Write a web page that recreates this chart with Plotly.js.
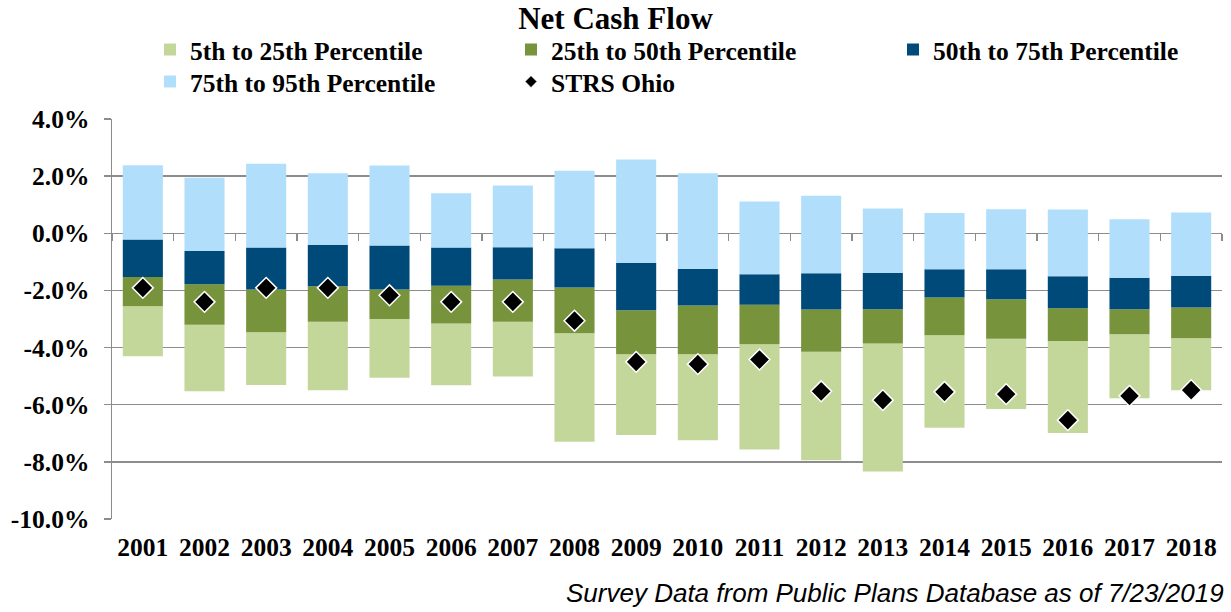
<!DOCTYPE html>
<html>
<head>
<meta charset="utf-8">
<script src="https://cdn.plot.ly/plotly-3.0.1.min.js"></script>
<style>
  html, body { margin: 0; padding: 0; background: #ffffff; }
  #chart { width: 1231px; height: 612px; }
</style>
</head>
<body>
<div id="chart"></div>
<script>
// ---- Data (percent) ----
var years = ['2001','2002','2003','2004','2005','2006','2007','2008','2009','2010','2011','2012','2013','2014','2015','2016','2017','2018'];
var p95 = [2.38, 1.94, 2.43, 2.10, 2.37, 1.40, 1.67, 2.19, 2.58, 2.10, 1.11, 1.31, 0.87, 0.71, 0.84, 0.83, 0.49, 0.73];
var p75 = [-0.22, -0.62, -0.50, -0.40, -0.43, -0.50, -0.49, -0.52, -1.04, -1.25, -1.43, -1.40, -1.39, -1.26, -1.26, -1.50, -1.56, -1.49];
var p50 = [-1.53, -1.78, -1.97, -1.85, -1.97, -1.84, -1.62, -1.90, -2.69, -2.53, -2.50, -2.67, -2.66, -2.25, -2.31, -2.62, -2.66, -2.60];
var p25 = [-2.55, -3.20, -3.46, -3.10, -3.00, -3.16, -3.10, -3.50, -4.23, -4.23, -3.88, -4.15, -3.86, -3.57, -3.69, -3.77, -3.53, -3.67];
var p5  = [-4.30, -5.53, -5.31, -5.49, -5.06, -5.32, -5.01, -7.30, -7.06, -7.24, -7.57, -7.94, -8.34, -6.81, -6.15, -6.99, -5.77, -5.49];
var strsOhio = [-1.91, -2.40, -1.91, -1.91, -2.17, -2.40, -2.40, -3.06, -4.50, -4.58, -4.42, -5.53, -5.84, -5.55, -5.63, -6.54, -5.69, -5.49];

var yTickVals = [-10, -8, -6, -4, -2, 0, 2, 4];
var yTickLabels = ['-10.0%', '-8.0%', '-6.0%', '-4.0%', '-2.0%', '0.0%', '2.0%', '4.0%'];

var seriesNames = ['5th to 25th Percentile', '25th to 50th Percentile', '50th to 75th Percentile', '75th to 95th Percentile', 'STRS Ohio'];

// ---- Build ----
function diff(hi, lo) { return hi.map(function (v, i) { return Math.round((v - lo[i]) * 1000) / 1000; }); }

var serif = "'Liberation Serif', 'Times New Roman', serif";
var C = { lg: '#C4D79B', g: '#77933C', db: '#004A7A', lb: '#B1DFFB' };

function band(name, lo, hi, color, legendId) {
  return {
    type: 'bar', name: name, x: years, base: lo, y: diff(hi, lo),
    marker: { color: color, line: { width: 0 } },
    legend: legendId, hoverinfo: 'skip'
  };
}

var traces = [
  band(seriesNames[0], p5, p25, C.lg, 'legend'),
  band(seriesNames[1], p25, p50, C.g, 'legend2'),
  band(seriesNames[2], p50, p75, C.db, 'legend3'),
  band(seriesNames[3], p75, p95, C.lb, 'legend4'),
  {
    type: 'scatter', mode: 'markers', name: seriesNames[4], x: years, y: strsOhio,
    marker: { symbol: 'diamond', size: 16, color: '#000000', line: { color: '#ffffff', width: 1.5 } },
    showlegend: false, legendgroup: 'strs', hoverinfo: 'skip'
  },
  // legend-only entry with the smaller diamond used in the key
  {
    type: 'scatter', mode: 'markers', name: seriesNames[4], x: [null], y: [null],
    marker: { symbol: 'diamond', size: 9, color: '#000000', line: { color: '#ffffff', width: 0.5 } },
    legend: 'legend5', legendgroup: 'strs', hoverinfo: 'skip'
  },
  {
    type: 'scatter', mode: 'markers', x: years, y: years.map(function () { return null; }),
    xaxis: 'x2', showlegend: false, hoverinfo: 'skip'
  }
];

var L = 112, R = 1222, T = 119, B = 519;
function px2x(px) { return (px - L) / (R - L); }
function py2y(py) { return (B - py) / (B - T); }

var legendFont = { family: serif, size: 25.5, color: '#000', weight: 'bold' };
function leg(pxLeft, pyCenter) {
  return {
    x: px2x(pxLeft), y: py2y(pyCenter), xanchor: 'left', yanchor: 'middle',
    font: legendFont, bgcolor: 'rgba(0,0,0,0)', borderwidth: 0, itemclick: false
  };
}

var gridCol = '#8C8C8C';
var layout = {
  width: 1231, height: 612,
  margin: { l: L, r: 1231 - R, t: T, b: 612 - B, pad: 0 },
  paper_bgcolor: '#ffffff', plot_bgcolor: '#ffffff',
  barmode: 'overlay', bargap: 0.35,
  title: {
    text: 'Net Cash Flow', font: { family: serif, size: 31, color: '#000', weight: 'bold' },
    x: 0.5, xref: 'container', xanchor: 'center', y: 1 - 18 / 612, yref: 'container', yanchor: 'middle'
  },
  showlegend: true,
  legend: leg(150, 50),
  legend2: leg(511, 50),
  legend3: leg(893, 50),
  legend4: leg(150, 82),
  legend5: leg(511, 82),
  xaxis: {
    type: 'category', categoryorder: 'array', categoryarray: years, range: [-0.5, years.length - 0.5],
    showgrid: false, zeroline: false, showline: false, ticks: '',
    tickfont: { family: serif, size: 25.5, color: '#000', weight: 'bold' },
    ticklabelstandoff: 10, fixedrange: true
  },
  xaxis2: {
    type: 'category', categoryorder: 'array', categoryarray: years, range: [-0.5, years.length - 0.5],
    overlaying: 'x', anchor: 'free', position: 10 / 14,
    showgrid: false, zeroline: false, showline: false, showticklabels: false,
    ticks: 'outside', tickson: 'boundaries', ticklen: 7, tickwidth: 1.5, tickcolor: gridCol, fixedrange: true
  },
  yaxis: {
    range: [-10, 4], tickvals: yTickVals, ticktext: yTickLabels,
    showgrid: true, gridcolor: gridCol, gridwidth: 1.5,
    zeroline: true, zerolinecolor: gridCol, zerolinewidth: 1.5,
    showline: true, linecolor: gridCol, linewidth: 1.5,
    ticks: 'outside', ticklen: 7, tickwidth: 1.5, tickcolor: gridCol,
    tickfont: { family: serif, size: 25.5, color: '#000', weight: 'bold' },
    ticklabelstandoff: 9, fixedrange: true
  },
  annotations: [{
    xref: 'paper', yref: 'paper', x: px2x(1226), y: py2y(593), xanchor: 'right', yanchor: 'middle',
    text: '<i>Survey Data from Public Plans Database as of 7/23/2019</i>', showarrow: false,
    font: { family: "'Liberation Sans', Arial, sans-serif", size: 26, color: '#000' }
  }]
};

Plotly.newPlot('chart', traces, layout, { displayModeBar: false, staticPlot: true });
</script>
</body>
</html>
